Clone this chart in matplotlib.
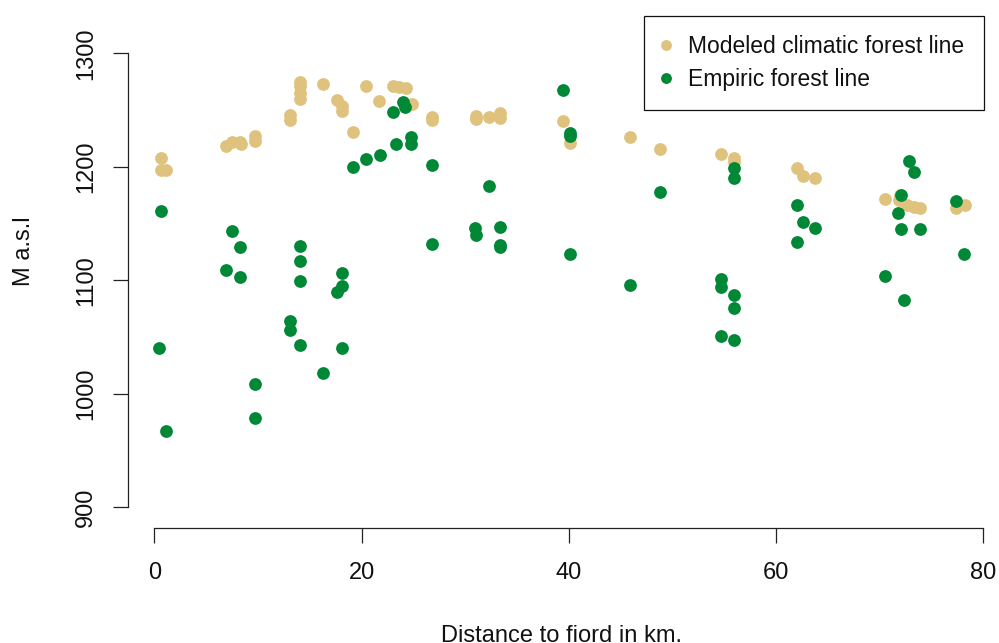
import matplotlib
matplotlib.use("Agg")
import matplotlib.pyplot as plt

plt.rcParams['font.family'] = ['Liberation Sans', 'DejaVu Sans']

# Modeled climatic forest line
model_x = [0.6, 0.6, 1.1, 6.9, 7.5, 8.3, 8.4, 9.7, 9.7, 13.1, 13.1, 14.1, 14.1, 14.1, 14.1,
           16.3, 17.6, 18.1, 18.1, 19.2, 20.4, 21.7, 23.0, 23.6, 24.3, 24.9, 26.8, 26.8,
           31.0, 31.0, 32.3, 33.4, 33.4, 39.4, 40.1, 45.9, 48.8, 54.7, 55.9, 55.9,
           62.0, 62.6, 63.8, 70.5, 71.9, 72.0, 72.6, 73.3, 73.9, 77.4, 78.2]
model_y = [1208, 1197, 1197, 1218, 1222, 1222, 1220, 1227, 1223, 1246, 1241, 1275, 1271, 1265, 1260,
           1273, 1259, 1254, 1249, 1231, 1271, 1258, 1271, 1270, 1269, 1255, 1244, 1241,
           1245, 1242, 1244, 1247, 1243, 1240, 1221, 1226, 1216, 1211, 1208, 1204,
           1199, 1192, 1190, 1172, 1171, 1175, 1166, 1165, 1164, 1164, 1166]

# Empiric forest line
emp_x = [0.6, 0.5, 1.1, 6.9, 7.5, 8.3, 8.3, 9.7, 9.7, 13.1, 13.1, 14.1, 14.1, 14.1, 14.1,
         16.3, 17.6, 18.1, 18.1, 18.1, 19.2, 20.4, 21.8, 23.0, 23.3, 24.0, 24.2, 24.8, 24.8,
         26.8, 26.8, 30.9, 31.0, 32.3, 33.4, 33.4, 33.4, 39.4, 40.1, 40.1, 40.1, 45.9, 48.8,
         54.7, 54.7, 54.7, 55.9, 55.9, 55.9, 55.9, 55.9, 62.0, 62.6, 63.8, 62.0,
         70.5, 71.8, 72.1, 72.1, 72.3, 72.8, 73.3, 73.9, 77.4, 78.1]
emp_y = [1161, 1040, 967, 1109, 1143, 1129, 1103, 1009, 979, 1064, 1056, 1130, 1117, 1099, 1043,
         1018, 1090, 1095, 1106, 1040, 1200, 1207, 1210, 1248, 1220, 1257, 1253, 1226, 1220,
         1202, 1132, 1146, 1140, 1183, 1147, 1131, 1129, 1268, 1230, 1227, 1123, 1096, 1178,
         1101, 1094, 1051, 1199, 1190, 1087, 1076, 1047, 1166, 1151, 1146, 1134,
         1104, 1159, 1175, 1145, 1083, 1205, 1195, 1145, 1170, 1123]

x_ticks = [0, 20, 40, 60, 80]
y_ticks = [900, 1000, 1100, 1200, 1300]

TAN = "#DFC27D"
GREEN = "#008837"
FS = 17

W, H = 999, 643
fig = plt.figure(figsize=(W / 100, H / 100), dpi=100)
left_px, right_px, bottom_px, top_px = 128.3, 999.0, 527.7, 0.0
ax = fig.add_axes([left_px / W, 1 - bottom_px / H, (right_px - left_px) / W, (bottom_px - top_px) / H])

# map: x=0 -> 154.3px, x=80 -> 983.3px ; y=1300 -> 53.3px, y=900 -> 507.3px
sx = (983.3 - 154.3) / 80.0
sy = (507.3 - 53.3) / 400.0
ax.set_xlim((left_px - 154.3) / sx, (right_px - 154.3) / sx)
ax.set_ylim(1300 - (bottom_px - 53.3) / sy, 1300 + (53.3 - top_px) / sy)

ax.plot(model_x, model_y, 'o', color=TAN, markersize=9.2, markeredgewidth=0,
        linestyle='none', label='Modeled climatic forest line', clip_on=False)
ax.plot(emp_x, emp_y, 'o', color=GREEN, markersize=9.2, markeredgewidth=0,
        linestyle='none', label='Empiric forest line', clip_on=False)

for s in ['top', 'right']:
    ax.spines[s].set_visible(False)
ax.spines['left'].set_bounds(900, 1300)
ax.spines['bottom'].set_bounds(0, 80)
for s in ['left', 'bottom']:
    ax.spines[s].set_linewidth(0.9)
    ax.spines[s].set_color('#222222')

ax.set_xticks(x_ticks)
ax.set_yticks(y_ticks)
ax.set_xticklabels([str(v) for v in x_ticks])
ax.set_yticklabels([str(v) for v in y_ticks], rotation=90, va='center')
ax.tick_params(axis='both', direction='out', length=11, width=0.9, color='#222222',
               labelsize=FS, labelcolor='#111111')
ax.tick_params(axis='x', pad=14)
ax.tick_params(axis='y', pad=11.5)

ax.set_xlabel('Distance to fiord in km.', fontsize=FS, color='#111111', va='baseline')
ax.xaxis.set_label_coords((561.5 - left_px) / (right_px - left_px), (bottom_px - 641.5) / (bottom_px - top_px))
ax.set_ylabel('M a.s.l', fontsize=FS, color='#111111', va='center')
ax.yaxis.set_label_coords((23.5 - left_px) / (right_px - left_px), (bottom_px - 251) / (bottom_px - top_px))

leg = ax.legend(loc='upper right', bbox_to_anchor=(984 / W, 1 - 15.7 / H),
                bbox_transform=fig.transFigure, borderaxespad=0, fontsize=FS - 0.5,
                frameon=True, fancybox=False, edgecolor='#111111', framealpha=1,
                borderpad=0.85, handlelength=0.2, handletextpad=0.87, labelspacing=0.42,
                numpoints=1, markerscale=0.85)
leg.get_frame().set_linewidth(0.9)
for t in leg.get_texts():
    t.set_color('#111111')

fig.savefig('out.png', dpi=100)
